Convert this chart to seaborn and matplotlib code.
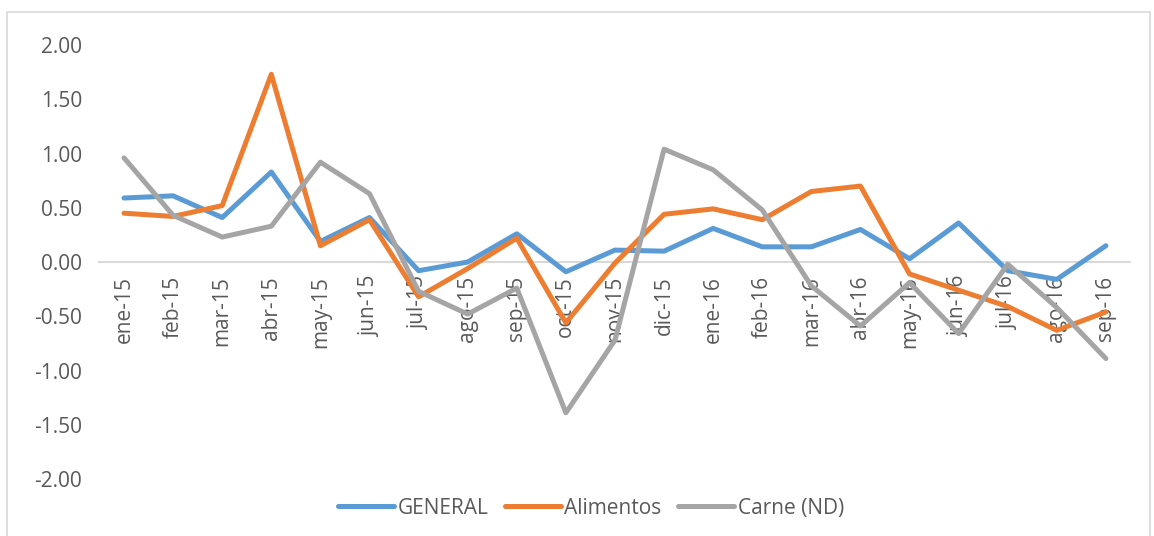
import numpy as np
import pandas as pd
import matplotlib
matplotlib.use('Agg')
import matplotlib.pyplot as plt
import seaborn as sns
from matplotlib.patches import Rectangle

# Monthly variation (%)
months = ['ene-15', 'feb-15', 'mar-15', 'abr-15', 'may-15', 'jun-15', 'jul-15',
          'ago-15', 'sep-15', 'oct-15', 'nov-15', 'dic-15', 'ene-16', 'feb-16',
          'mar-16', 'abr-16', 'may-16', 'jun-16', 'jul-16', 'ago-16', 'sep-16']
general = [0.59, 0.61, 0.41, 0.83, 0.19, 0.41, -0.08, 0.00, 0.26, -0.09, 0.11,
           0.10, 0.31, 0.14, 0.14, 0.30, 0.03, 0.36, -0.08, -0.16, 0.15]
alimentos = [0.45, 0.42, 0.52, 1.73, 0.15, 0.39, -0.32, -0.06, 0.22, -0.56, -0.01,
             0.44, 0.49, 0.39, 0.65, 0.70, -0.11, -0.26, -0.41, -0.63, -0.46]
carne = [0.96, 0.43, 0.23, 0.33, 0.92, 0.63, -0.27, -0.48, -0.24, -1.39, -0.72,
         1.04, 0.85, 0.48, -0.22, -0.59, -0.19, -0.66, -0.02, -0.42, -0.89]

series_names = ['GENERAL', 'Alimentos', 'Carne (ND)']
colors = ['#5B9BD5', '#ED7D31', '#A5A5A5']

# long format for seaborn
frames = []
for name, vals in zip(series_names, [general, alimentos, carne]):
    frames.append(pd.DataFrame({'pos': np.arange(len(months)), 'mes': months,
                                'valor': vals, 'serie': name}))
df = pd.concat(frames, ignore_index=True)

sns.set_style('white')
plt.rcParams['font.family'] = ['Open Sans', 'DejaVu Sans']
text_color = '#595959'
fsize = 15

fig = plt.figure(figsize=(11.54, 5.36), dpi=100)
ax = fig.add_axes([0.0862, 0.1063, 0.8934, 0.8097])

sns.lineplot(data=df, x='pos', y='valor', hue='serie', hue_order=series_names,
             palette=colors, linewidth=3.6, ax=ax, legend=False, sort=False)

ax.set_xlim(-0.5, len(months) - 0.5)
ax.set_ylim(-2, 2)
ax.set_xlabel('')
ax.set_ylabel('')

# category axis crosses at zero like the original
for s in ['top', 'right', 'left']:
    ax.spines[s].set_visible(False)
ax.spines['bottom'].set_position(('data', 0))
ax.spines['bottom'].set_color('#D9D9D9')
ax.spines['bottom'].set_linewidth(1.5)
ax.spines['bottom'].set_zorder(0)

yt = np.arange(-2, 2.01, 0.5)
ax.set_yticks(yt)
ax.set_yticklabels([f'{v:.2f}' for v in yt])
ax.set_xticks(range(len(months)))
ax.set_xticklabels(months)
ax.tick_params(axis='both', length=0, colors=text_color, labelsize=fsize)
ax.tick_params(axis='y', pad=12.5)
ax.tick_params(axis='x', pad=10, labelrotation=90)
ax.grid(False)

# legend at the bottom
handles = [plt.Line2D([0], [0], color=c, linewidth=3.6) for c in colors]
fig.legend(handles, series_names, loc='center', bbox_to_anchor=(0.512, 0.052),
           ncol=3, frameon=False, fontsize=fsize, labelcolor=text_color,
           handlelength=2.7, handletextpad=0.15, columnspacing=0.8)

# chart area border
fig.patches.append(Rectangle((7 / 1154, -0.01), 1143 / 1154, (536 - 12) / 536 + 0.01,
                             transform=fig.transFigure, fill=False,
                             edgecolor='#D9D9D9', linewidth=1.2))

fig.savefig('out.png', dpi=100)
plt.close(fig)
